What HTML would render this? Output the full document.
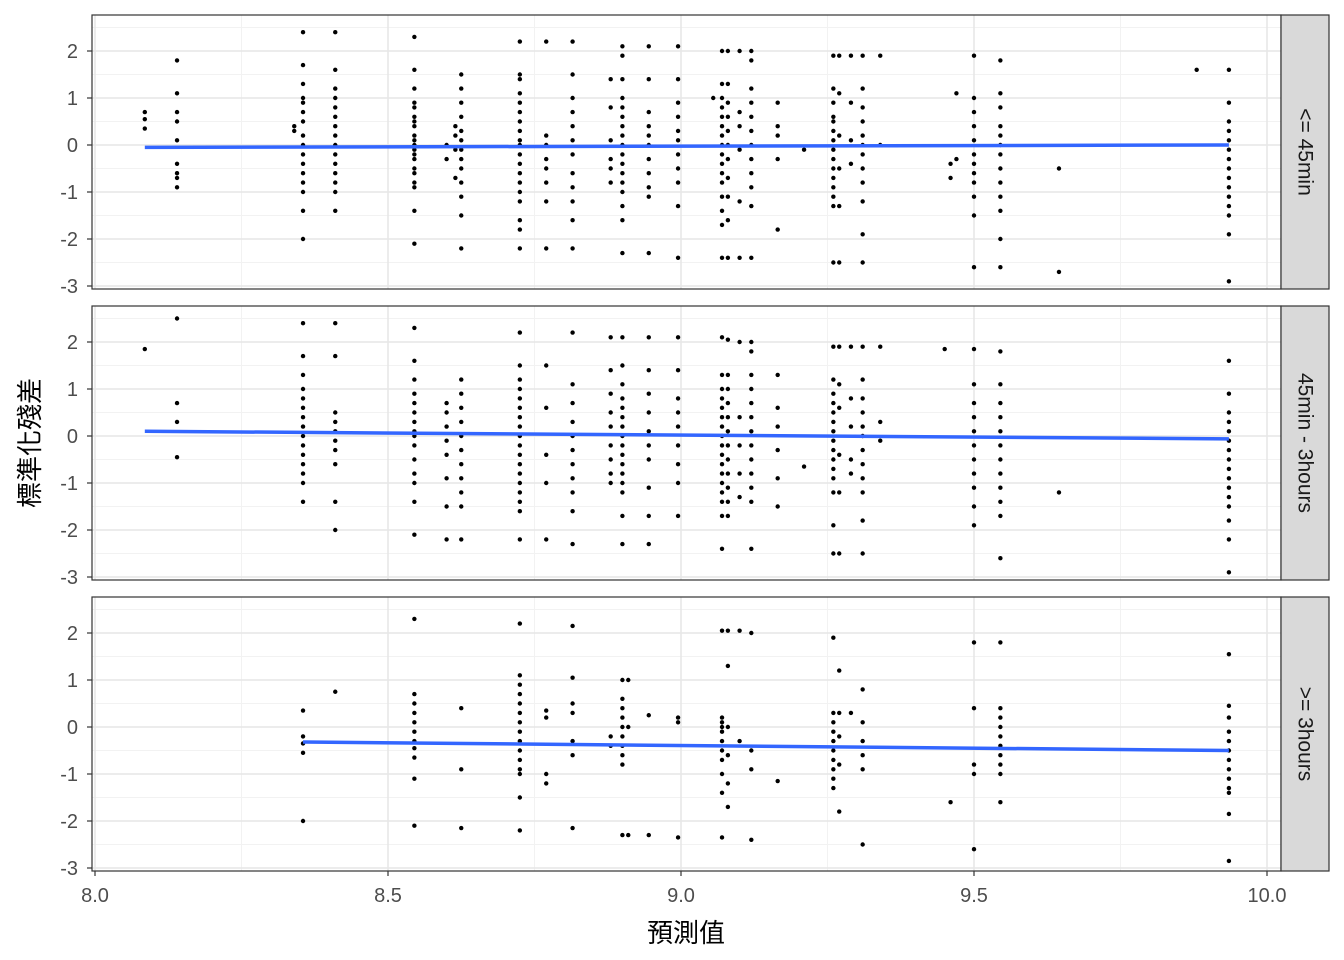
<!DOCTYPE html>
<html><head><meta charset="utf-8">
<style>
html,body{margin:0;padding:0;background:#fff;}
svg{display:block;}
text{font-family:"Liberation Sans","Noto Sans CJK TC",sans-serif;}
</style></head>
<body>
<svg id="chart" width="1344" height="960" viewBox="0 0 1344 960" xmlns="http://www.w3.org/2000/svg"></svg>
<script>
const xTicks=[8.0,8.5,9.0,9.5,10.0];
const xTickLabels=["8.0","8.5","9.0","9.5","10.0"];
const yTicks=[2,1,0,-1,-2,-3];
const panelLabels=["<= 45min","45min - 3hours",">= 3hours"];
const panel1Cols=[
[8.085,[0.7,0.55,0.35]],
[8.14,[1.8,1.1,0.7,0.5,0.1,-0.4,-0.6,-0.7,-0.9]],
[8.34,[0.4,0.3]],
[8.355,[2.4,1.7,1.3,1.0,0.9,0.7,0.5,0.2,0,-0.2,-0.4,-0.6,-0.8,-1.0,-1.4,-2.0]],
[8.41,[2.4,1.6,1.2,1.0,0.8,0.6,0.4,0.2,0,-0.2,-0.4,-0.6,-0.8,-1.0,-1.4]],
[8.545,[2.3,1.6,1.2,0.9,0.8,0.6,0.5,0.4,0.2,0.1,0,-0.1,-0.2,-0.3,-0.5,-0.6,-0.8,-0.9,-1.4,-2.1]],
[8.6,[0.0,-0.3]],
[8.615,[0.4,0.2,-0.1,-0.7]],
[8.625,[1.5,1.2,0.9,0.6,0.3,0.1,-0.1,-0.3,-0.5,-0.8,-1.1,-1.5,-2.2]],
[8.725,[2.2,1.5,1.4,1.1,0.9,0.7,0.5,0.3,0.1,0,-0.2,-0.4,-0.6,-0.8,-1.0,-1.2,-1.6,-1.8,-2.2]],
[8.77,[2.2,0.2,0,-0.3,-0.5,-0.8,-1.2,-2.2]],
[8.815,[2.2,1.5,1.0,0.7,0.4,0.1,-0.2,-0.6,-0.9,-1.2,-1.6,-2.2]],
[8.88,[1.4,0.8,0.1,-0.3,-0.5,-0.8]],
[8.9,[2.1,1.9,1.4,1.0,0.8,0.6,0.4,0.2,0,-0.2,-0.4,-0.6,-0.8,-1.0,-1.3,-1.6,-2.3]],
[8.945,[2.1,1.4,0.7,0.4,0.2,0,-0.3,-0.6,-0.9,-1.1,-2.3]],
[8.995,[2.1,1.4,0.9,0.6,0.3,0.1,-0.2,-0.5,-0.8,-1.3,-2.4]],
[9.055,[1.0]],
[9.07,[2.0,1.3,1.0,0.8,0.6,0.4,0.2,0,-0.2,-0.4,-0.6,-0.8,-1.1,-1.4,-1.7,-2.4]],
[9.08,[2.0,1.3,0.9,0.6,0.3,0,-0.3,-0.7,-1.1,-1.6,-2.4]],
[9.1,[2.0,0.7,0.4,-0.1,-1.2,-2.4]],
[9.12,[2.0,1.8,1.2,0.9,0.6,0.3,0,-0.3,-0.6,-0.9,-1.3,-2.4]],
[9.165,[0.9,0.4,0.2,-0.3,-1.8]],
[9.21,[-0.1]],
[9.26,[1.9,1.2,0.9,0.6,0.5,0.3,0.1,-0.1,-0.3,-0.5,-0.7,-0.9,-1.1,-1.3,-2.5]],
[9.27,[1.9,1.1,0.2,-0.5,-1.3,-2.5]],
[9.29,[1.9,0.9,0.1,-0.4]],
[9.31,[1.9,1.2,0.8,0.5,0.2,0,-0.2,-0.5,-0.8,-1.2,-1.9,-2.5]],
[9.34,[1.9,0]],
[9.46,[-0.4,-0.7]],
[9.47,[1.1,-0.3]],
[9.5,[1.9,1.0,0.7,0.4,0.1,-0.2,-0.4,-0.6,-0.8,-1.1,-1.5,-2.6]],
[9.545,[1.8,1.1,0.8,0.4,0.2,0,-0.2,-0.5,-0.8,-1.1,-1.4,-2.0,-2.6]],
[9.645,[-0.5,-2.7]],
[9.88,[1.6]],
[9.935,[1.6,0.9,0.5,0.3,0.1,-0.1,-0.3,-0.5,-0.7,-0.9,-1.1,-1.3,-1.5,-1.9,-2.9]]];
const panel2Cols=[
[8.085,[1.85]],
[8.14,[2.5,0.7,0.3,-0.45]],
[8.355,[2.4,1.7,1.3,1.0,0.8,0.6,0.4,0.2,0,-0.2,-0.4,-0.6,-0.8,-1.0,-1.4]],
[8.41,[2.4,1.7,0.5,0.3,0.1,-0.1,-0.3,-0.6,-1.4,-2.0]],
[8.545,[2.3,1.6,1.2,0.9,0.7,0.5,0.3,0.1,0,-0.2,-0.5,-0.8,-1.0,-1.4,-2.1]],
[8.6,[0.7,0.5,0.2,-0.1,-0.4,-0.9,-1.5,-2.2]],
[8.625,[1.2,0.9,0.6,0.3,0.0,-0.3,-0.6,-0.9,-1.2,-1.5,-2.2]],
[8.725,[2.2,1.5,1.2,1.0,0.8,0.6,0.4,0.2,0,-0.2,-0.4,-0.6,-0.8,-1.0,-1.2,-1.4,-1.6,-2.2]],
[8.77,[1.5,0.6,-0.4,-1.0,-2.2]],
[8.815,[2.2,1.1,0.7,0.3,0.0,-0.3,-0.6,-0.9,-1.2,-1.6,-2.3]],
[8.88,[2.1,1.4,0.9,0.5,0.2,-0.2,-0.5,-0.8,-1.0]],
[8.9,[2.1,1.5,1.1,0.8,0.6,0.4,0.2,0,-0.2,-0.4,-0.6,-0.8,-1.0,-1.2,-1.7,-2.3]],
[8.945,[2.1,1.4,0.9,0.5,0.1,-0.2,-0.5,-1.1,-1.7,-2.3]],
[8.995,[2.1,1.4,0.8,0.5,0.2,-0.2,-0.6,-1.0,-1.7]],
[9.07,[2.1,1.3,1.0,0.8,0.6,0.4,0.2,0,-0.2,-0.4,-0.6,-0.8,-1.0,-1.2,-1.4,-1.7,-2.4]],
[9.08,[2.05,1.3,1.0,0.7,0.4,0.1,-0.2,-0.5,-0.8,-1.1,-1.4,-1.7]],
[9.1,[2.0,0.4,-0.2,-0.8,-1.3]],
[9.12,[2.0,1.8,1.3,1.0,0.7,0.4,0.1,-0.2,-0.5,-0.8,-1.1,-1.4,-2.4]],
[9.165,[1.3,0.6,0.2,-0.3,-0.9,-1.5]],
[9.21,[-0.65]],
[9.26,[1.9,1.2,0.9,0.7,0.5,0.3,0.1,-0.1,-0.3,-0.5,-0.7,-0.9,-1.2,-1.9,-2.5]],
[9.27,[1.9,1.1,0.6,-0.4,-1.2,-2.5]],
[9.29,[1.9,0.8,0.2,-0.5,-0.8]],
[9.31,[1.9,1.2,0.8,0.5,0.2,0,-0.3,-0.6,-0.9,-1.2,-1.8,-2.5]],
[9.34,[1.9,0.3,-0.1]],
[9.45,[1.85]],
[9.5,[1.85,1.1,0.7,0.4,0.1,-0.2,-0.5,-0.8,-1.1,-1.5,-1.9]],
[9.545,[1.8,1.1,0.7,0.4,0.1,-0.2,-0.5,-0.8,-1.1,-1.4,-1.7,-2.6]],
[9.645,[-1.2]],
[9.935,[1.6,0.9,0.5,0.3,0.1,-0.1,-0.3,-0.5,-0.7,-0.9,-1.1,-1.3,-1.5,-1.8,-2.2,-2.9]]];
const panel3Cols=[
[8.355,[0.35,-0.2,-0.35,-0.55,-2.0]],
[8.41,[0.75]],
[8.545,[2.3,0.7,0.5,0.3,0.1,-0.1,-0.3,-0.45,-0.65,-1.1,-2.1]],
[8.625,[0.4,-0.9,-2.15]],
[8.725,[2.2,1.1,0.9,0.7,0.5,0.3,0.1,-0.1,-0.3,-0.5,-0.7,-0.9,-1.0,-1.5,-2.2]],
[8.77,[0.35,0.2,-1.0,-1.2]],
[8.815,[2.15,1.05,0.5,0.3,-0.3,-0.6,-2.15]],
[8.88,[-0.2,-0.4]],
[8.9,[1.0,0.6,0.4,0.2,0,-0.2,-0.4,-0.6,-0.8,-2.3]],
[8.91,[1.0,0.0,-2.3]],
[8.945,[0.25,-2.3]],
[8.995,[0.2,0.1,-2.35]],
[9.07,[2.05,0.2,0.1,0,-0.1,-0.3,-0.5,-0.7,-1.0,-1.4,-2.35]],
[9.08,[2.05,1.3,0.0,-0.6,-1.2,-1.7]],
[9.1,[2.05,-0.3]],
[9.12,[2.0,-0.5,-0.9,-2.4]],
[9.165,[-1.15]],
[9.26,[1.9,0.3,0.1,-0.1,-0.3,-0.5,-0.7,-0.9,-1.1,-1.3]],
[9.27,[1.2,0.3,-0.2,-0.8,-1.8]],
[9.29,[0.3]],
[9.31,[0.8,0.1,-0.3,-0.6,-0.9,-2.5]],
[9.46,[-1.6]],
[9.5,[1.8,0.4,-0.8,-1.0,-2.6]],
[9.545,[1.8,0.4,0.2,0,-0.2,-0.4,-0.6,-0.8,-1.0,-1.6]],
[9.935,[1.55,0.45,0.2,-0.1,-0.3,-0.5,-0.7,-0.9,-1.1,-1.3,-1.4,-1.85,-2.85]]];
const smoothX=[[8.085,9.935],[8.085,9.935],[8.355,9.935]];
const smoothY=[[-0.05,0.0],[0.1,-0.06],[-0.32,-0.5]];
const panelCols=[panel1Cols,panel2Cols,panel3Cols];

const NS="http://www.w3.org/2000/svg";
const svg=document.getElementById('chart');
function el(tag,attrs,parent){const e=document.createElementNS(NS,tag);for(const k in attrs)e.setAttribute(k,attrs[k]);(parent||svg).appendChild(e);return e;}
const PL=92,PR=1281,SW=48;
const panelTops=[15,306,597],PH=274;
const xs=v=>95+(v-8.0)*586;
function ysFor(top){return v=>top+36+(2-v)*47;}

panelTops.forEach((top,pi)=>{
  const ys=ysFor(top);
  const g=el('g',{});
  
  
  el('rect',{x:PL,y:top,width:PR-PL,height:PH,fill:'#fff'},g);
  for(let v=7.75;v<=10.25;v+=0.5){const x=xs(v);if(x>PL&&x<PR)el('line',{x1:x,x2:x,y1:top,y2:top+PH,stroke:'#f2f2f2','stroke-width':1},g);}
  for(let v=-3.5;v<=2.5;v+=1){const y=ys(v);if(y>top&&y<top+PH)el('line',{x1:PL,x2:PR,y1:y,y2:y,stroke:'#f2f2f2','stroke-width':1},g);}
  xTicks.forEach(v=>{const x=xs(v);el('line',{x1:x,x2:x,y1:top,y2:top+PH,stroke:'#e6e6e6','stroke-width':1.5},g);});
  yTicks.forEach(v=>{const y=ys(v);el('line',{x1:PL,x2:PR,y1:y,y2:y,stroke:'#e6e6e6','stroke-width':1.5},g);
    el('line',{x1:PL-5,x2:PL,y1:y,y2:y,stroke:'#333','stroke-width':1.2},g);
    const t=el('text',{x:PL-14,y:y+7,'text-anchor':'end','font-size':20,fill:'#4d4d4d'},g);t.textContent=String(v);
    
    
  });
  panelCols[pi].forEach(([xv,arr])=>{arr.forEach(yv=>{
    const c=el('circle',{cx:xs(xv),cy:ys(yv),r:2.2,fill:'#000'},g);
    
    
  });});
  const sx=smoothX[pi],sy=smoothY[pi];
  const ln=el('line',{x1:xs(sx[0]),y1:ys(sy[0]),x2:xs(sx[1]),y2:ys(sy[1]),stroke:'#3366ff','stroke-width':3.5},g);
  
  
  el('rect',{x:PL,y:top,width:PR-PL,height:PH,fill:'none',stroke:'#333','stroke-width':1.2},g);
  const s=el('rect',{x:PR,y:top,width:SW,height:PH,fill:'#d9d9d9',stroke:'#333','stroke-width':1.2},g);
  
  
  const cy=top+PH/2;
  const st=el('text',{x:PR+SW/2,y:cy,'text-anchor':'middle','dominant-baseline':'central','font-size':21,fill:'#1a1a1a',transform:`rotate(90 ${PR+SW/2} ${cy})`},g);
  st.textContent=panelLabels[pi];
  
  
});
const bottom=panelTops[2]+PH;
xTicks.forEach((v,i)=>{const x=xs(v);
  el('line',{x1:x,x2:x,y1:bottom,y2:bottom+5,stroke:'#333','stroke-width':1.2});
  const t=el('text',{x:x,y:bottom+31,'text-anchor':'middle','font-size':20,fill:'#4d4d4d'});t.textContent=xTickLabels[i];
  
  
});
const xt=el('text',{x:686,y:942,'text-anchor':'middle','font-size':26,fill:'#000','font-family':'"Liberation Serif","Noto Serif CJK SC",serif'});
xt.textContent='預測值';


const yt=el('text',{x:30,y:443,'text-anchor':'middle','dominant-baseline':'central','font-size':26,fill:'#000','font-family':'"Liberation Serif","Noto Serif CJK SC",serif',transform:'rotate(-90 30 443)'});
yt.textContent='標準化殘差';


</script>
</body></html>
